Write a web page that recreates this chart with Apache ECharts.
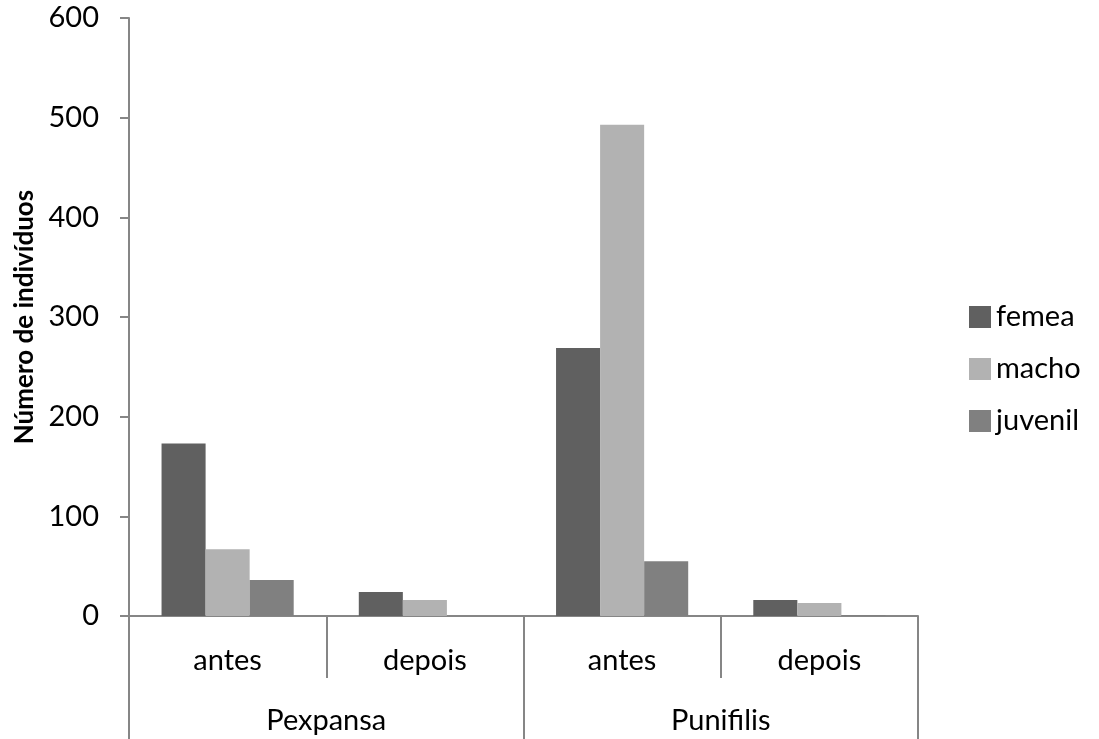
<!DOCTYPE html>
<html>
<head>
<meta charset="utf-8">
<script src="https://cdn.jsdelivr.net/npm/echarts@6/dist/echarts.min.js"></script>
<style>
html,body{margin:0;padding:0;background:#fff;}
#chart{width:1099px;height:739px;}
</style>
</head>
<body>
<div id="chart"></div>
<script>
const subCategories = ['antes', 'depois', 'antes', 'depois'];
const groupCategories = ['Pexpansa', 'Punifilis'];
const seriesNames = ['femea', 'macho', 'juvenil'];
const femea = [173, 24, 269, 16];
const macho = [67, 16, 493, 13];
const juvenil = [36, 0, 55, 1];
const yTicks = [0, 100, 200, 300, 400, 500, 600];

const colors = ['#606060', '#b2b2b2', '#808080'];
const FONT = 'Lato';
const axisGray = '#868686';

const chart = echarts.init(document.getElementById('chart'), null, {renderer: 'canvas'});
const values = [femea, macho, juvenil];

chart.setOption({
  backgroundColor: '#ffffff',
  animation: false,
  textStyle: {fontFamily: FONT, color: '#000'},
  grid: {left: 129, right: 181, top: 18, bottom: 123, containLabel: false, outerBoundsMode: 'none'},
  legend: {
    orient: 'vertical',
    left: 969,
    top: 302,
    padding: 0,
    itemWidth: 22,
    itemHeight: 22,
    itemGap: 22,
    icon: 'rect',
    data: seriesNames,
    textStyle: {fontFamily: FONT, fontSize: 29, color: '#000', lineHeight: 30, padding: [0, 0, 0, 0]}
  },
  xAxis: [
    {
      type: 'category',
      position: 'bottom',
      data: subCategories,
      axisLine: {show: true, lineStyle: {color: axisGray, width: 2}},
      axisTick: {show: true, interval: 0, length: 62, lineStyle: {color: axisGray, width: 2}},
      axisLabel: {interval: 0, margin: 30, fontFamily: FONT, fontSize: 29, color: '#000'}
    },
    {
      type: 'category',
      position: 'bottom',
      data: groupCategories,
      axisLine: {show: false},
      axisTick: {show: true, interval: 0, length: 130, lineStyle: {color: axisGray, width: 2}},
      axisLabel: {interval: 0, margin: 90, fontFamily: FONT, fontSize: 29, color: '#000'}
    }
  ],
  yAxis: {
    type: 'value',
    min: yTicks[0],
    max: yTicks[yTicks.length - 1],
    interval: yTicks[1] - yTicks[0],
    name: 'Número de indivíduos',
    nameLocation: 'middle',
    nameRotate: 90,
    nameGap: 82,
    nameTextStyle: {fontFamily: FONT, fontSize: 26, fontWeight: 'bold', color: '#000'},
    axisLine: {show: true, lineStyle: {color: axisGray, width: 2}},
    axisTick: {show: true, inside: false, length: 9, lineStyle: {color: axisGray, width: 2}},
    splitLine: {show: false},
    axisLabel: {margin: 30, fontFamily: FONT, fontSize: 29, color: '#000'}
  },
  series: seriesNames.map((name, i) => ({
    name: name,
    type: 'bar',
    xAxisIndex: 0,
    data: values[i],
    barGap: '0%',
    barCategoryGap: '33%',
    itemStyle: {color: colors[i]}
  }))
});
</script>
</body>
</html>
